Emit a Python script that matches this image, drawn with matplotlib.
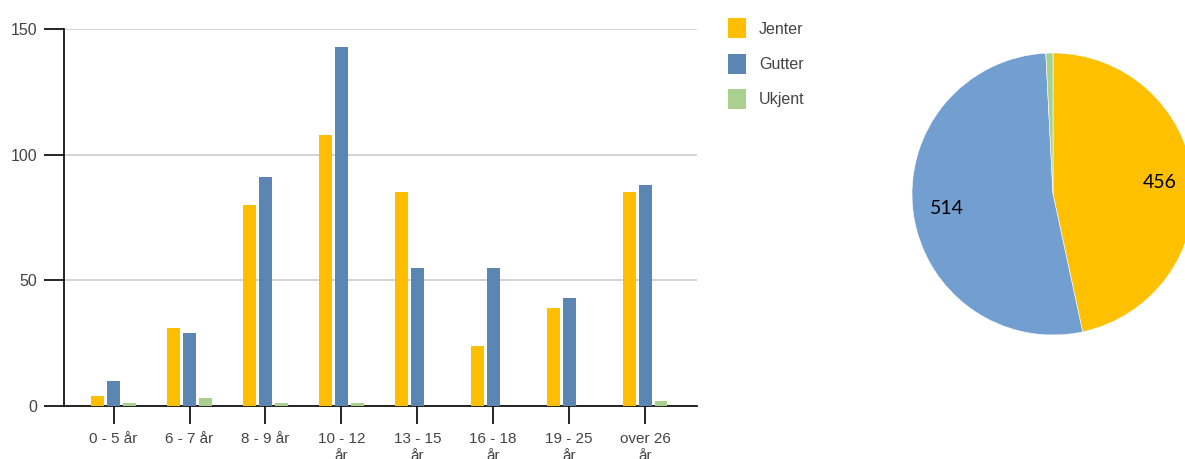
import matplotlib.pyplot as plt
import numpy as np

# data
kategorier = ["0 - 5 år", "6 - 7 år", "8 - 9 år", "10 - 12\når", "13 - 15\når",
              "16 - 18\når", "19 - 25\når", "over 26\når"]
jenter = [4, 31, 80, 108, 85, 24, 39, 85]
gutter = [10, 29, 91, 143, 55, 55, 43, 88]
ukjent = [1, 3, 1, 1, 0, 0, 0, 2]
serier = ["Jenter", "Gutter", "Ukjent"]

farge_bar = ["#FFBF00", "#5B85B2", "#A9D08E"]
farge_pie = ["#FFC000", "#729FD0", "#A9D18E"]

plt.rcParams['font.family'] = ['Liberation Sans', 'DejaVu Sans']

fig = plt.figure(figsize=(11.85, 4.59), dpi=100)
ax = fig.add_axes([64/1185, 53/459, 633/1185, 377/459])

x = np.arange(len(kategorier))
b = 0.17
d = 0.21
for i, verdier in enumerate([jenter, gutter, ukjent]):
    ax.bar(x + (i - 1) * d, verdier, width=b, color=farge_bar[i], label=serier[i], zorder=3)

ax.set_ylim(0, 150)
ax.set_xlim(-0.654, 7.684)
ax.set_yticks([0, 50, 100, 150])
ax.set_xticks(x)
ax.set_xticklabels(kategorier, fontsize=11, color="#444444", linespacing=1.25, va="top")
ax.tick_params(axis="y", length=14.5, width=1.2, pad=5, labelsize=11.5, labelcolor="#444444")
ax.tick_params(axis="x", length=13, width=1.2, pad=6)
ax.grid(axis="y", color="#cccccc", linewidth=1.2, zorder=0)
for s in ["top", "right"]:
    ax.spines[s].set_visible(False)
ax.spines["left"].set_linewidth(1.2)
ax.spines["bottom"].set_linewidth(1.2)

fig.legend(loc="upper left", bbox_to_anchor=(714/1185, 1 - 4/459), frameon=False,
           fontsize=11.5, labelcolor="#444444", handlelength=1.13, handleheight=1.53,
           labelspacing=0.98, handletextpad=0.8)

# kake
totaler = [sum(jenter), sum(gutter), sum(ukjent)]
r = 141
axp = fig.add_axes([(1053 - r)/1185, (459 - 194 - r)/459, 2*r/1185, 2*r/459])
axp.pie(totaler, colors=farge_pie, startangle=90, counterclock=False,
        autopct=lambda p: "%d" % round(p * sum(totaler) / 100) if p > 5 else "",
        pctdistance=0.76, wedgeprops=dict(edgecolor="white", linewidth=0.4),
        textprops=dict(fontsize=14, family="Lato", color="#000000"))
axp.set_xlim(-1, 1)
axp.set_ylim(-1, 1)
axp.set_aspect("equal")
axp.axis("off")

fig.savefig("out.png", dpi=100)
